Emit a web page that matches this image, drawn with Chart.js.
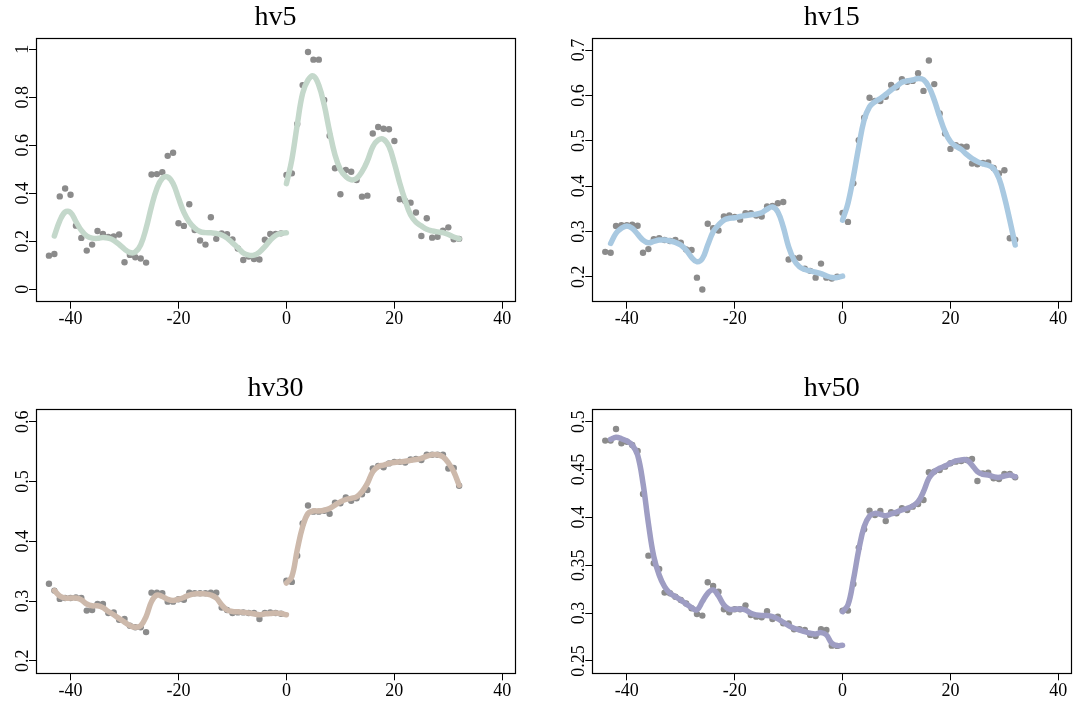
<!DOCTYPE html>
<html>
<head>
<meta charset="utf-8">
<script src="https://cdn.jsdelivr.net/npm/chart.js@4.4.7/dist/chart.umd.min.js"></script>
<style>
  body { margin: 0; background: #fff; }
  #wrap { position: relative; width: 1075px; height: 701px; }
  #wrap canvas { position: absolute; }
</style>
</head>
<body>
<div id="wrap">
  <canvas id="hv5" width="537" height="350" style="left:0;top:0"></canvas>
  <canvas id="hv15" width="538" height="350" style="left:537px;top:0"></canvas>
  <canvas id="hv30" width="537" height="351" style="left:0;top:350px"></canvas>
  <canvas id="hv50" width="538" height="351" style="left:537px;top:350px"></canvas>
</div>
<script>
// days relative to the break
const daysBefore = [-44,-43,-42,-41,-40,-39,-38,-37,-36,-35,-34,-33,-32,-31,-30,-29,-28,-27,-26,-25,-24,-23,-22,-21,-20,-19,-18,-17,-16,-15,-14,-13,-12,-11,-10,-9,-8,-7,-6,-5,-4,-3,-2,-1];
const daysAfter = [0,1,2,3,4,5,6,7,8,9,10,11,12,13,14,15,16,17,18,19,20,21,22,23,24,25,26,27,28,29,30,31,32];
const smoothDaysBefore = [-43,-42,-41,-40,-39,-38,-37,-36,-35,-34,-33,-32,-31,-30,-29,-28,-27,-26,-25,-24,-23,-22,-21,-20,-19,-18,-17,-16,-15,-14,-13,-12,-11,-10,-9,-8,-7,-6,-5,-4,-3,-2,-1,0];

const xTicks = [-40, -20, 0, 20, 40];
const xTickLabels = ["-40", "-20", "0", "20", "40"];

// hv5
const hv5PtsBefore = [.14,.147,.387,.42,.394,.265,.214,.161,.186,.243,.23,.218,.22,.228,.1125,.143,.133,.128,.111,.478,.48,.4875,.556,.569,.275,.264,.354,.247,.203,.186,.30,.21,.233,.229,.208,.17,.122,.136,.126,.124,.206,.23,.23,.233];
const hv5PtsAfter = [.476,.483,.689,.851,.989,.957,.957,.789,.64,.504,.396,.497,.49,.455,.386,.39,.649,.676,.669,.667,.618,.375,.368,.361,.32,.222,.296,.215,.219,.244,.258,.208,.21];
const hv5LineBefore = [.222,.285,.322,.32,.282,.245,.222,.213,.212,.216,.213,.204,.187,.167,.153,.155,.185,.254,.345,.42,.462,.468,.441,.38,.32,.28,.255,.24,.236,.235,.233,.226,.213,.193,.173,.151,.142,.142,.155,.178,.204,.224,.233,.235];
const hv5LineAfter = [.44,.54,.685,.816,.872,.889,.85,.768,.657,.56,.498,.47,.456,.462,.49,.535,.594,.622,.625,.595,.525,.442,.37,.31,.28,.264,.25,.243,.239,.236,.228,.218,.21];
const hv5YTicks = [0, 0.2, 0.4, 0.6, 0.8, 1];
const hv5YLabels = ["0", "0.2", "0.4", "0.6", "0.8", "1"];

// hv15
const hv15PtsBefore = [.255,.253,.312,.314,.314,.315,.3125,.253,.261,.283,.285,.281,.279,.281,.275,.26,.259,.198,.172,.317,.307,.302,.333,.335,.332,.326,.34,.34,.335,.333,.355,.356,.362,.365,.238,.241,.242,.218,.213,.198,.229,.198,.196,.2];
const hv15PtsAfter = [.341,.321,.406,.501,.551,.595,.588,.5875,.597,.623,.618,.636,.63,.632,.649,.61,.677,.625,.56,.516,.482,.49,.487,.487,.45,.448,.451,.452,.44,.428,.435,.285,.282];
const hv15LineBefore = [.2735,.296,.307,.312,.307,.294,.281,.275,.278,.281,.281,.279,.276,.27,.259,.243,.233,.24,.27,.299,.314,.325,.329,.33,.333,.335,.337,.338,.341,.349,.354,.343,.31,.266,.237,.222,.216,.213,.21,.207,.202,.1985,.1985,.2015];
const hv15LineAfter = [.325,.362,.42,.487,.546,.575,.586,.593,.602,.612,.62,.629,.632,.634,.6375,.635,.619,.59,.553,.52,.498,.488,.481,.47,.461,.454,.449,.446,.439,.417,.376,.325,.27];
const hv15YTicks = [0.2, 0.3, 0.4, 0.5, 0.6, 0.7];
const hv15YLabels = ["0.2", "0.3", "0.4", "0.5", "0.6", "0.7"];

// hv30
const hv30PtsBefore = [.329,.3175,.3036,.305,.305,.306,.305,.284,.285,.295,.295,.28,.281,.2685,.27,.2585,.256,.256,.248,.314,.314,.313,.299,.299,.303,.302,.314,.313,.313,.313,.314,.314,.289,.285,.28,.281,.281,.28,.28,.27,.28,.281,.28,.2786];
const hv30PtsAfter = [.334,.332,.376,.43,.46,.4496,.4496,.451,.446,.4646,.4635,.4735,.468,.472,.4786,.486,.522,.526,.524,.5304,.533,.533,.532,.537,.538,.536,.545,.545,.545,.545,.522,.5226,.493];
const hv30LineBefore = [.3175,.3086,.305,.305,.305,.302,.295,.292,.292,.289,.2825,.277,.2707,.2646,.259,.256,.2585,.274,.299,.31,.3075,.303,.301,.303,.306,.31,.312,.312,.312,.31,.305,.2936,.285,.2825,.282,.281,.28,.2786,.277,.2786,.279,.28,.279,.277];
const hv30LineAfter = [.33,.341,.3855,.4245,.4468,.4507,.4507,.452,.455,.4607,.466,.47,.472,.4746,.483,.497,.5164,.525,.5276,.5304,.532,.533,.534,.5355,.537,.539,.5426,.545,.545,.5415,.5315,.5164,.494];
const hv30YTicks = [0.2, 0.3, 0.4, 0.5, 0.6];
const hv30YLabels = ["0.2", "0.3", "0.4", "0.5", "0.6"];

// hv50
const hv50PtsBefore = [.4802,.4802,.4923,.4774,.479,.4756,.4694,.4244,.36,.352,.346,.3214,.3207,.317,.3137,.31,.305,.299,.2974,.3322,.3283,.3224,.304,.3008,.304,.304,.3081,.298,.2963,.2956,.3019,.2939,.2963,.2893,.2893,.2831,.2831,.2824,.2772,.2761,.2831,.2824,.266,.2657];
const hv50PtsAfter = [.3026,.3026,.3304,.3684,.3875,.407,.4025,.4067,.3962,.4053,.4042,.4095,.4077,.4112,.414,.4182,.4471,.4478,.4495,.453,.4565,.4582,.4589,.46,.461,.438,.446,.4467,.4408,.4401,.4453,.4453,.4418];
const hv50LineBefore = [.4815,.4836,.4822,.4798,.4756,.4652,.4356,.3938,.359,.3398,.3276,.3207,.3172,.3137,.3095,.3057,.3033,.312,.3207,.3242,.3179,.3085,.304,.304,.3043,.3033,.2998,.2981,.2974,.2974,.2963,.2939,.2904,.2869,.2841,.2824,.2806,.2789,.2782,.2796,.2772,.2685,.266,.2664];
const hv50LineAfter = [.3015,.3085,.3346,.366,.3903,.4015,.4042,.4032,.4018,.4036,.4056,.4077,.4095,.4119,.4164,.4269,.4408,.4478,.4513,.4537,.4565,.4589,.46,.46,.4547,.4478,.445,.4443,.4425,.4418,.4432,.4443,.4425];
const hv50YTicks = [0.25, 0.3, 0.35, 0.4, 0.45, 0.5];
const hv50YLabels = ["0.25", "0.3", "0.35", "0.4", "0.45", "0.5"];

Chart.defaults.font.family = "'Liberation Serif', 'Times New Roman', serif";

function xy(xs, ys) {
  return xs.map((x, i) => ({ x: x, y: ys[i] }));
}

// box + tick labels drawn in R style
const frame = {
  id: 'frame',
  afterDraw(chart) {
    const { ctx, chartArea: a, scales } = chart;
    const o = chart.options.plugins.frame;
    ctx.save();
    ctx.strokeStyle = '#000';
    ctx.lineWidth = 1.2;
    ctx.strokeRect(Math.round(a.left) + 0.5, Math.round(a.top) + 0.5,
      Math.round(a.right - a.left), Math.round(a.bottom - a.top));
    ctx.fillStyle = '#000';
    ctx.font = "18px 'Liberation Serif'";
    ctx.textAlign = 'center';
    ctx.textBaseline = 'alphabetic';
    xTicks.forEach((v, i) => {
      ctx.fillText(xTickLabels[i], scales.x.getPixelForValue(v), a.bottom + 22.3);
    });
    o.yTicks.forEach((v, i) => {
      ctx.save();
      ctx.translate(a.left - 8.5, scales.y.getPixelForValue(v));
      ctx.rotate(-Math.PI / 2);
      ctx.fillText(o.yLabels[i], 0, 0);
      ctx.restore();
    });
    ctx.restore();
  }
};

function panel(id, color, ptsB, ptsA, lineB, lineA, yMin, yMax, yTicks, yLabels, box) {
  const cv = document.getElementById(id);
  const H = cv.height;
  const lineStyle = {
    showLine: true, borderColor: color, borderWidth: 5.5, pointRadius: 0,
    tension: 0.4, borderCapStyle: 'round', borderJoinStyle: 'round', order: 0
  };
  const ptStyle = {
    showLine: false, pointRadius: 3.2, pointBackgroundColor: '#8b8b8b',
    pointBorderWidth: 0, order: 1
  };
  return new Chart(cv.getContext('2d'), {
    type: 'scatter',
    data: {
      datasets: [
        Object.assign({ data: xy(smoothDaysBefore, lineB) }, lineStyle),
        Object.assign({ data: xy(daysAfter, lineA) }, lineStyle),
        Object.assign({ data: xy(daysBefore, ptsB) }, ptStyle),
        Object.assign({ data: xy(daysAfter, ptsA) }, ptStyle)
      ]
    },
    options: {
      responsive: false,
      animation: false,
      layout: { padding: { left: 0, right: cv.width - box.right, top: box.top - 37.8, bottom: 0 } },
      plugins: {
        legend: { display: false },
        tooltip: { enabled: false },
        title: {
          display: true, text: id, color: '#000', fullSize: false,
          font: { size: 28, weight: 'normal' },
          padding: { top: 0, bottom: 4.2 }
        },
        frame: { yTicks: yTicks, yLabels: yLabels }
      },
      scales: {
        x: {
          type: 'linear', min: -46.4, max: 42.35,
          afterBuildTicks: s => { s.ticks = xTicks.map(v => ({ value: v })); },
          afterFit: s => { s.height = H - box.bottom; },
          ticks: { display: false, autoSkip: false },
          grid: { drawOnChartArea: false, color: '#000', tickLength: 7 },
          border: { display: false }
        },
        y: {
          type: 'linear', min: yMin, max: yMax,
          afterBuildTicks: s => { s.ticks = yTicks.map(v => ({ value: v })); },
          afterFit: s => { s.width = box.left; },
          ticks: { display: false, autoSkip: false },
          grid: { drawOnChartArea: false, color: '#000', tickLength: 7 },
          border: { display: false }
        }
      }
    },
    plugins: [frame]
  });
}

panel('hv5', '#c4d8cb', hv5PtsBefore, hv5PtsAfter, hv5LineBefore, hv5LineAfter,
  -0.052, 1.046, hv5YTicks, hv5YLabels, { left: 36, right: 515, top: 38.3, bottom: 301.7 });
panel('hv15', '#a9c9e1', hv15PtsBefore, hv15PtsAfter, hv15LineBefore, hv15LineAfter,
  0.145, 0.726, hv15YTicks, hv15YLabels, { left: 55.3, right: 534, top: 38.3, bottom: 301.7 });
panel('hv30', '#cdb9ab', hv30PtsBefore, hv30PtsAfter, hv30LineBefore, hv30LineAfter,
  0.179, 0.621, hv30YTicks, hv30YLabels, { left: 36, right: 515, top: 59.3, bottom: 323.3 });
panel('hv50', '#9e9dc3', hv50PtsBefore, hv50PtsAfter, hv50LineBefore, hv50LineAfter,
  0.2371, 0.5129, hv50YTicks, hv50YLabels, { left: 55.3, right: 534, top: 59.3, bottom: 323.3 });
</script>
</body>
</html>
